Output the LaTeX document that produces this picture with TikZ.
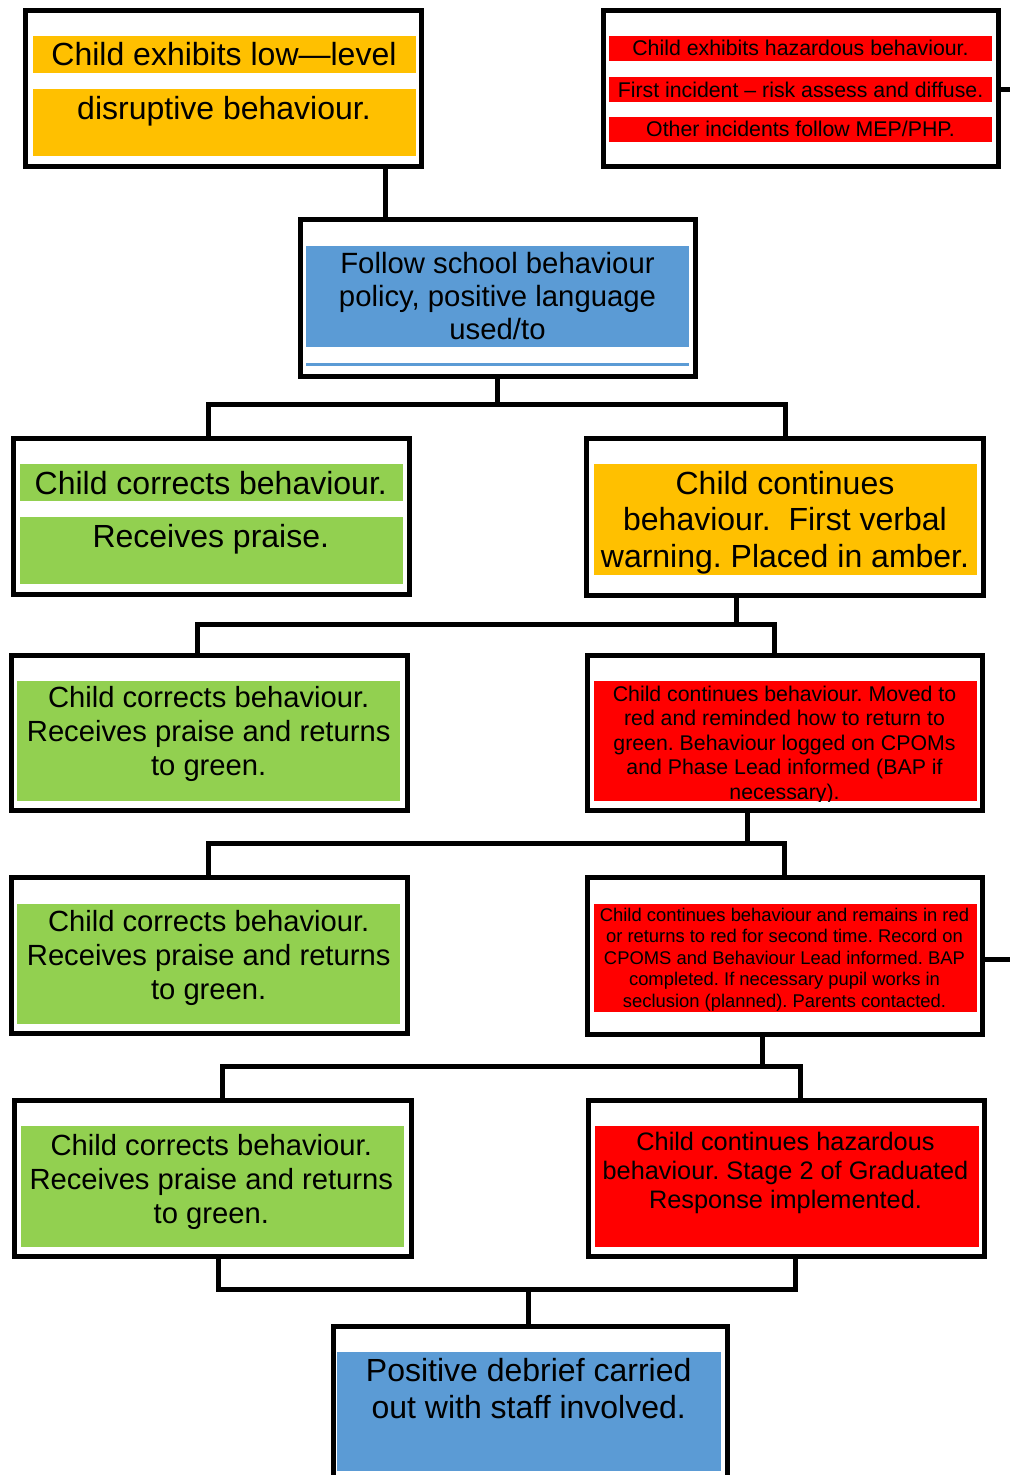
\documentclass[tikz,border=0pt]{standalone}
\usepackage{fontspec}
\setmainfont{Liberation Sans}
\usetikzlibrary{fit}
\definecolor{ambc}{HTML}{FFC000}
\definecolor{redc}{HTML}{FF0000}
\definecolor{grnc}{HTML}{92D050}
\definecolor{bluc}{HTML}{5B9BD5}
\tikzset{
  frame/.style={draw=black, line width=5pt, fill=white, rectangle, inner sep=0pt, outer sep=0pt},
  band/.style={draw=none, rectangle, inner sep=0pt, outer sep=0pt},
  conn/.style={draw=black, line width=5pt, line join=miter},
  txt/.style={align=center, inner sep=0pt, outer sep=0pt, text=black,
    execute at begin node=\vphantom{Ag}, execute at end node=\vphantom{Ag}},
  fs/.style n args={2}{font=\fontsize{#1}{#2}\selectfont},
}
\begin{document}
\frenchspacing
\begin{tikzpicture}[x=1pt,y=-1pt]
\useasboundingbox (0,0) rectangle (1010,1475);

% ---------- frames ----------
\node[frame, fit={(25.5,10) (421.5,166.5)}] (b1) {};
\node[frame, fit={(603,10) (998,166.5)}] (haz) {};
\node[frame, fit={(300,219) (695.5,376)}] (fol) {};
\node[frame, fit={(13,438.5) (409,594)}] (cb1) {};
\node[frame, fit={(586.5,438) (983,595)}] (amb) {};
\node[frame, fit={(11,655) (407,810.5)}] (g2) {};
\node[frame, fit={(587,655.5) (982,810.5)}] (r2) {};
\node[frame, fit={(11,877.5) (407,1033.5)}] (g3) {};
\node[frame, fit={(587,877.5) (982,1034)}] (r3) {};
\node[frame, fit={(14,1100) (411,1256.5)}] (g4) {};
\node[frame, fit={(588.5,1100) (984.5,1256.5)}] (r4) {};
\node[frame, fit={(333,1326.5) (727,1495)}] (bot) {};

% ---------- colour bands ----------
\node[band, fill=ambc, fit={(33,36) (416,72.5)}] (b1a) {};
\node[band, fill=ambc, fit={(33,89) (416,155.5)}] (b1b) {};
\node[band, fill=redc, fit={(609,36) (992,61)}] (haza) {};
\node[band, fill=redc, fit={(609,77) (992,102)}] (hazb) {};
\node[band, fill=redc, fit={(609,117) (992,142)}] (hazc) {};
\node[band, fill=bluc, fit={(306,246) (689,346.5)}] (folb) {};
\node[band, fill=bluc, fit={(306,363) (689,366)}] (foll) {};
\node[band, fill=grnc, fit={(20,464) (403.3,501)}] (cb1a) {};
\node[band, fill=grnc, fit={(20,517.3) (403.3,584)}] (cb1b) {};
\node[band, fill=ambc, fit={(594,464) (977.3,575)}] (ambb) {};
\node[band, fill=grnc, fit={(16.7,680.7) (400,800.7)}] (g2b) {};
\node[band, fill=redc, fit={(594,681) (977,801)}] (r2b) {};
\node[band, fill=grnc, fit={(16.7,904) (400,1024)}] (g3b) {};
\node[band, fill=redc, fit={(594,904.3) (977,1011.7)}] (r3b) {};
\node[band, fill=grnc, fit={(20.6,1126) (404,1246.7)}] (g4b) {};
\node[band, fill=redc, fit={(595,1126) (979,1246.7)}] (r4b) {};
\node[band, fill=bluc, fit={(337.4,1352) (721,1470.7)}] (botb) {};

% ---------- texts ----------
\node[txt, fs={32}{37}] (t1a) at (224,57.6) {Child exhibits low—level};
\node[txt, fs={32}{37}] (t1b) at (224,111.2) {disruptive behaviour.};
\node[txt, fs={21.3}{25}] (th1) at (800.5,50.2) {Child exhibits hazardous behaviour.};
\node[txt, fs={21.3}{25}] (th2) at (800.5,91.7) {First incident – risk assess and diffuse.};
\node[txt, fs={21.3}{25}] (th3) at (800.5,131.4) {Other incidents follow MEP/PHP.};
\node[txt, fs={29.3}{33}] (tf) at (497.5,299) {Follow school behaviour\\policy, positive language\\used/to};
\node[txt, fs={32}{37}] (tc1a) at (210.8,485.9) {Child corrects behaviour.};
\node[txt, fs={32}{37}] (tc1b) at (210.8,538.9) {Receives praise.};
\node[txt, fs={32}{36.7}] (tam) at (785,522.6) {Child continues\\behaviour.\ \ First verbal\\warning. Placed in amber.};
\node[txt, fs={29.2}{34}] (tg2) at (208.7,734.3) {Child corrects behaviour.\\Receives praise and returns\\to green.};
\begin{scope}
  \clip (r2b.north west) rectangle (r2b.south east);
  \node[txt, fs={21.3}{24.45}] (tr2) at (784.5,744.6) {Child continues behaviour. Moved to\\red and reminded how to return to\\green. Behaviour logged on CPOMs\\and Phase Lead informed (BAP if\\necessary).};
\end{scope}
\node[txt, fs={29.2}{34.1}] (tg3) at (208.7,957.7) {Child corrects behaviour.\\Receives praise and returns\\to green.};
\node[txt, fs={18.4}{21.45}] (tr3) at (784.5,959.6) {Child continues behaviour and remains in red\\or returns to red for second time. Record on\\CPOMS and Behaviour Lead informed. BAP\\completed. If necessary pupil works in\\seclusion (planned). Parents contacted.};
\node[txt, fs={29.2}{34}] (tg4) at (211.3,1181.6) {Child corrects behaviour.\\Receives praise and returns\\to green.};
\node[txt, fs={25.3}{29.2}] (tr4) at (785.5,1173.2) {Child continues hazardous\\behaviour. Stage 2 of Graduated\\Response implemented.};
\node[txt, fs={32}{37.5}] (tb) at (528.7,1391.8) {Positive debrief carried\\out with staff involved.};

% ---------- junction coordinates ----------
\coordinate (x0) at (385,190);
\coordinate (h1L) at (208,404);
\coordinate (h1R) at (785,404);
\coordinate (h2T) at (736.7,624);
\coordinate (h2L) at (197.7,624);
\coordinate (h2R) at (774.5,624);
\coordinate (h3T) at (747,843);
\coordinate (h3L) at (208,843);
\coordinate (h3R) at (784.5,843);
\coordinate (h4T) at (762.5,1066.5);
\coordinate (h4L) at (222.5,1066.5);
\coordinate (h4R) at (800,1066.5);
\coordinate (h5L) at (218,1289);
\coordinate (h5R) at (795,1289);
\coordinate (h5B) at (528,1289);
\coordinate (e1) at (1010,89);
\coordinate (e2) at (1010,959);

% ---------- connectors ----------
\draw[conn] (b1.south -| x0) -- (fol.north -| x0);
\draw[conn] (fol.south) -- (fol.south |- h1L);
\draw[conn] (cb1.north -| h1L) -- (h1L) -- (h1R) -- (amb.north -| h1R);
\draw[conn] (amb.south -| h2T) -- (h2T);
\draw[conn] (g2.north -| h2L) -- (h2L) -- (h2R) -- (r2.north -| h2R);
\draw[conn] (r2.south -| h3T) -- (h3T);
\draw[conn] (g3.north -| h3L) -- (h3L) -- (h3R) -- (r3.north -| h3R);
\draw[conn] (r3.south -| h4T) -- (h4T);
\draw[conn] (g4.north -| h4L) -- (h4L) -- (h4R) -- (r4.north -| h4R);
\draw[conn] (g4.south -| h5L) -- (h5L) -- (h5R) -- (r4.south -| h5R);
\draw[conn] (h5B) -- (bot.north -| h5B);
\draw[conn] (haz.east |- e1) -- (e1);
\draw[conn] (r3.east |- e2) -- (e2);
\end{tikzpicture}
\end{document}
